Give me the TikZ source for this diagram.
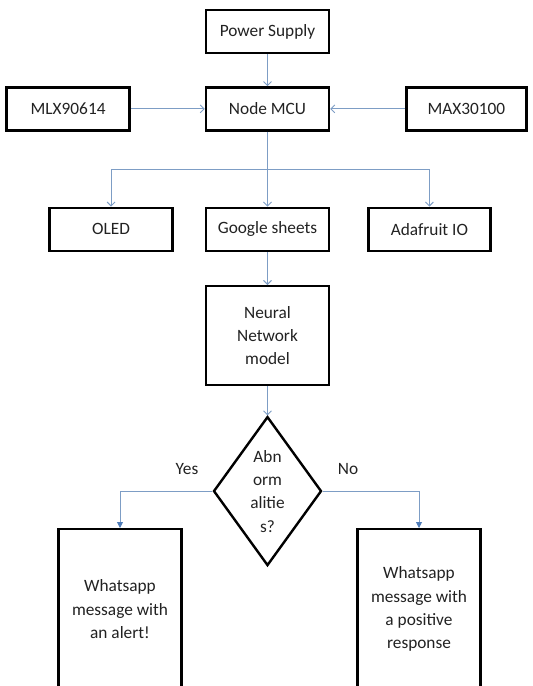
\documentclass[tikz,border=0pt]{standalone}
\usepackage{fontspec}
\setmainfont{Carlito}
\usetikzlibrary{shapes.geometric}
\usetikzlibrary{positioning}
\usetikzlibrary{arrows.meta}
\usetikzlibrary{calc}
\definecolor{linkblue}{HTML}{7D9DC5}
\definecolor{tipblue}{HTML}{4F7CB8}
\definecolor{inkgray}{HTML}{222222}

\begin{document}
\begin{tikzpicture}[x=1pt,y=-1pt,
            font=\fontsize{17.3}{23.3}\selectfont,text=inkgray,
            box/.style = {draw,line width=2.4pt,fill=white,align=center,
                minimum width=123pt,minimum height=43pt,inner sep=2pt},
            tall/.style = {box,minimum height=160pt,anchor=north},
            decision/.style = {draw,line width=2.4pt,diamond,align=center,
                minimum width=108pt,minimum height=149pt,inner sep=0pt,
                shape aspect=0.72},
            link/.style = {draw=linkblue,line width=0.9pt,
                -{Straight Barb[length=4pt,width=8pt]}},
            tiplink/.style = {draw=linkblue,line width=0.9pt,
                -{Triangle[length=6pt,width=6pt,color=tipblue]}}]
            \useasboundingbox (0,0) rectangle (533,686);
            \node[box](power) at (267.5,31.5) {Power Supply};
            \node[box,below=32pt of power](mcu) {Node MCU};
            \node[box,left=74pt of mcu](mlx) {MLX90614};
            \node[box,right=75pt of mcu,minimum width=120pt](max) {MAX30100};
            \node[box,below=75pt of mcu](sheets) {Google sheets};
            \node[box,left=31pt of sheets](oled) {OLED};
            \node[box,right=37pt of sheets,minimum width=122pt](ada) {Adafruit IO};
            \node[box,below=33pt of sheets,minimum height=99pt](nn) {Neural\\Network\\model};
            \node[decision,below=29pt of nn](abn) {Abn\\orm\\alitie\\s?};
            \node[tall](alert) at (120,528) {Whatsapp\\message with\\an alert!};
            \node[tall](positive) at (419,528) {Whatsapp\\message with\\a positive\\response};
            \node(yes) at (187,469) {Yes};
            \node(no) at (348,469) {No};
            \coordinate (split) at ($(mcu.south)!0.5!(sheets.north)$);
            \path[link]
                (power) edge (mcu)
                (mlx) edge (mcu)
                (max) edge (mcu)
                (mcu) edge (sheets)
                (sheets) edge (nn)
                (nn) edge (abn);
            \draw[link] (split) -| (oled.north);
            \draw[link] (split) -| (ada.north);
            \draw[tiplink] (abn.west) -| (alert.north);
            \draw[tiplink] (abn.east) -| (positive.north);
        \end{tikzpicture}
\end{document}
